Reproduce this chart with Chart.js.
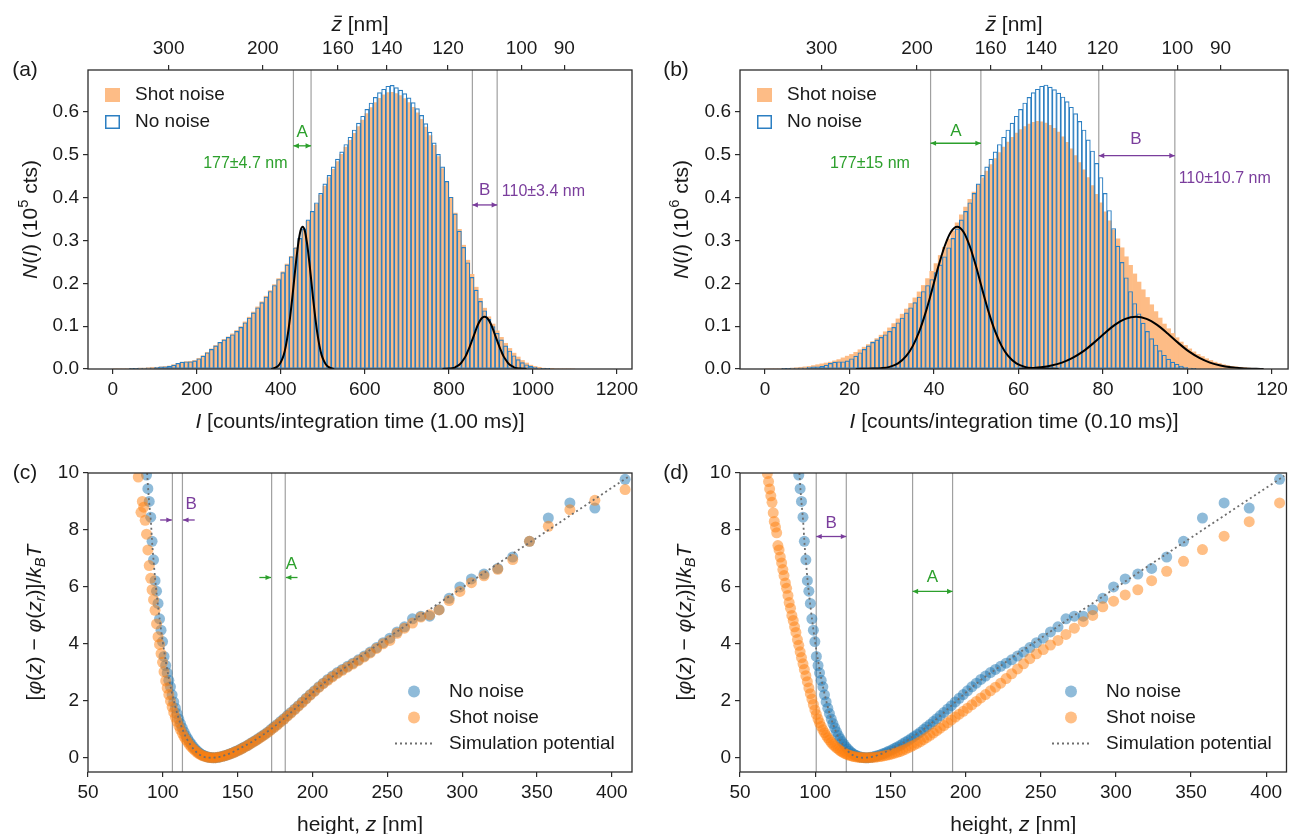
<!DOCTYPE html>
<html>
<head>
<meta charset="utf-8">
<title>Intensity histograms and reconstructed potentials</title>
<script src="https://cdn.jsdelivr.net/npm/chart.js@4.4.1/dist/chart.umd.min.js"></script>
<style>
  html, body { margin: 0; padding: 0; background: #fff; }
  #page { position: relative; width: 1292px; height: 834px; overflow: hidden; background: #fff; }
  #page canvas { position: absolute; }
</style>
</head>
<body>
<div id="page">
  <canvas id="panelA" width="646" height="445" style="left:0;top:0"></canvas>
  <canvas id="panelB" width="646" height="445" style="left:646px;top:0"></canvas>
  <canvas id="panelC" width="646" height="389" style="left:0;top:445px"></canvas>
  <canvas id="panelD" width="646" height="389" style="left:646px;top:445px"></canvas>
</div>
<script>
// ---- panel (a): 1.00 ms integration, bins of 10 counts, N(I) in 1e5 cts
var binWidthA = 10;
var shotNoiseA = [
  0, 0, 0, 0, 0.001, 0.001, 0.002, 0.002, 0.003, 0.004,
  0.004, 0.005, 0.006, 0.007, 0.010, 0.013, 0.016, 0.017, 0.018, 0.020,
  0.025, 0.031, 0.039, 0.047, 0.055, 0.062, 0.069, 0.075, 0.082, 0.090,
  0.099, 0.110, 0.121, 0.133, 0.145, 0.157, 0.170, 0.183, 0.197, 0.211,
  0.227, 0.245, 0.263, 0.283, 0.304, 0.325, 0.345, 0.365, 0.385, 0.406,
  0.427, 0.447, 0.466, 0.484, 0.501, 0.518, 0.534, 0.550, 0.566, 0.581,
  0.596, 0.610, 0.622, 0.632, 0.640, 0.645, 0.646, 0.643, 0.638, 0.631,
  0.622, 0.611, 0.598, 0.583, 0.565, 0.545, 0.522, 0.496, 0.468, 0.436,
  0.401, 0.364, 0.326, 0.289, 0.254, 0.221, 0.191, 0.165, 0.142, 0.122,
  0.105, 0.089, 0.074, 0.060, 0.048, 0.037, 0.028, 0.020, 0.014, 0.009,
  0.006, 0.004, 0.002, 0.001, 0.001, 0, 0, 0, 0, 0
];
var noNoiseA = [
  0, 0, 0, 0, 0.001, 0.001, 0.002, 0.002, 0.003, 0.003,
  0.004, 0.005, 0.005, 0.006, 0.009, 0.013, 0.016, 0.017, 0.017, 0.019,
  0.024, 0.030, 0.038, 0.046, 0.054, 0.062, 0.068, 0.074, 0.080, 0.088,
  0.097, 0.108, 0.119, 0.131, 0.143, 0.155, 0.168, 0.181, 0.195, 0.209,
  0.225, 0.243, 0.262, 0.283, 0.305, 0.327, 0.348, 0.368, 0.388, 0.410,
  0.432, 0.452, 0.472, 0.490, 0.507, 0.524, 0.541, 0.558, 0.574, 0.590,
  0.606, 0.621, 0.634, 0.645, 0.653, 0.660, 0.662, 0.657, 0.651, 0.643,
  0.633, 0.622, 0.608, 0.592, 0.573, 0.553, 0.528, 0.501, 0.472, 0.438,
  0.401, 0.362, 0.322, 0.284, 0.248, 0.214, 0.184, 0.158, 0.136, 0.116,
  0.099, 0.083, 0.068, 0.054, 0.042, 0.031, 0.022, 0.015, 0.010, 0.006,
  0.004, 0.002, 0.001, 0.001, 0, 0, 0, 0, 0, 0
];
var fitA_a = [[377,0],[387,0.003],[392,0.006],[397,0.011],[402,0.020],[407,0.033],[412,0.054],[417,0.083],
  [422,0.120],[427,0.163],[432,0.211],[437,0.257],[442,0.296],[447,0.323],[452,0.332],[457,0.323],[462,0.296],
  [467,0.257],[472,0.211],[477,0.163],[482,0.120],[487,0.083],[492,0.054],[497,0.033],[502,0.020],[507,0.011],
  [512,0.006],[517,0.003],[527,0]];
var fitB_a = [[785,0],[800,0.001],[808,0.002],[815,0.004],[820,0.007],[825,0.010],[830,0.015],[835,0.022],
  [840,0.030],[845,0.041],[850,0.053],[855,0.066],[860,0.079],[865,0.093],[870,0.105],[875,0.114],[880,0.120],
  [885,0.122],[890,0.120],[895,0.114],[900,0.105],[905,0.093],[910,0.079],[915,0.066],[920,0.053],[925,0.041],
  [930,0.030],[935,0.022],[940,0.015],[945,0.010],[950,0.007],[955,0.004],[962,0.002],[970,0.001],[985,0]];
var guidesA = [430, 472, 856, 915];
var xTicksA = [0, 200, 400, 600, 800, 1000, 1200];
var zTickPosA = [133, 357, 536, 652, 798, 973, 1075];

// ---- panel (b): 0.10 ms integration, bins of 1 count, N(I) in 1e6 cts
var binWidthB = 1;
var shotNoiseB = [
  0, 0, 0, 0, 0.001, 0.001, 0.002, 0.003, 0.004, 0.005,
  0.006, 0.008, 0.010, 0.012, 0.014, 0.016, 0.019, 0.022, 0.026, 0.030,
  0.034, 0.039, 0.045, 0.051, 0.057, 0.064, 0.071, 0.079, 0.087, 0.096,
  0.106, 0.117, 0.128, 0.140, 0.153, 0.166, 0.180, 0.195, 0.211, 0.228,
  0.246, 0.265, 0.284, 0.303, 0.322, 0.341, 0.360, 0.378, 0.396, 0.413,
  0.430, 0.446, 0.462, 0.477, 0.491, 0.505, 0.518, 0.530, 0.541, 0.551,
  0.559, 0.566, 0.572, 0.576, 0.578, 0.577, 0.574, 0.569, 0.562, 0.553,
  0.542, 0.529, 0.514, 0.498, 0.482, 0.465, 0.447, 0.428, 0.408, 0.388,
  0.367, 0.346, 0.325, 0.304, 0.283, 0.262, 0.242, 0.222, 0.203, 0.185,
  0.167, 0.150, 0.134, 0.119, 0.105, 0.094, 0.083, 0.073, 0.063, 0.055,
  0.047, 0.040, 0.034, 0.029, 0.024, 0.020, 0.016, 0.013, 0.010, 0.008,
  0.006, 0.005, 0.004, 0.003, 0.002, 0.001, 0.001, 0
];
var noNoiseB = [
  0, 0, 0, 0, 0.001, 0.001, 0.002, 0.002, 0.003, 0.003,
  0.004, 0.005, 0.005, 0.006, 0.009, 0.013, 0.016, 0.017, 0.017, 0.019,
  0.024, 0.030, 0.038, 0.046, 0.054, 0.062, 0.068, 0.074, 0.080, 0.088,
  0.097, 0.108, 0.119, 0.131, 0.143, 0.155, 0.168, 0.181, 0.195, 0.209,
  0.225, 0.243, 0.262, 0.283, 0.305, 0.327, 0.348, 0.368, 0.388, 0.410,
  0.432, 0.452, 0.472, 0.490, 0.507, 0.524, 0.541, 0.558, 0.574, 0.590,
  0.606, 0.621, 0.634, 0.645, 0.653, 0.660, 0.663, 0.658, 0.652, 0.644,
  0.635, 0.624, 0.611, 0.596, 0.578, 0.558, 0.535, 0.509, 0.480, 0.447,
  0.410, 0.370, 0.328, 0.287, 0.249, 0.213, 0.181, 0.153, 0.129, 0.107,
  0.088, 0.071, 0.056, 0.043, 0.032, 0.023, 0.016, 0.011, 0.007, 0.004,
  0.002, 0.001, 0, 0, 0, 0, 0, 0
];
var fitA_b = [[21.5,0],[25.5,0.001],[27.5,0.002],[29.5,0.005],[31.5,0.013],[33.5,0.031],[35,0.054],[36.5,0.087],
  [38,0.131],[39.5,0.183],[41,0.238],[42.5,0.286],[44,0.320],[45.5,0.332],[47,0.320],[48.5,0.286],[50,0.238],
  [51.5,0.183],[53,0.131],[54.5,0.087],[56,0.054],[57.5,0.031],[59.5,0.013],[61.5,0.005],[63.5,0.002],
  [65.5,0.001],[69.5,0]];
var fitB_b = [[60,0],[62.8,0.002],[65.3,0.004],[67.8,0.008],[70.3,0.015],[72.8,0.026],[75.3,0.041],[77.8,0.061],
  [80.3,0.083],[82.8,0.103],[85.3,0.117],[87.8,0.122],[90.3,0.117],[92.8,0.103],[95.3,0.083],[97.8,0.061],
  [100.3,0.041],[102.8,0.026],[105.3,0.015],[107.8,0.008],[110.3,0.004],[112.8,0.002],[118,0]];
var guidesB = [39.2, 51.1, 79.0, 97.0];
var xTicksB = [0, 20, 40, 60, 80, 100, 120];
var zTickPosB = [13.4, 36.0, 53.4, 65.4, 79.9, 97.6, 107.8];

var zTickLabels = ['300', '200', '160', '140', '120', '100', '90'];
var histYTicks = [0, 0.1, 0.2, 0.3, 0.4, 0.5, 0.6];

// ---- panels (c), (d): potentials [height z (nm), phi/kBT]
var noNoisePhi = [[89.1,9.93],[90.0,9.45],[90.9,9.0],[91.9,8.45],[92.8,7.6],[93.8,6.95],[94.8,6.22],[95.8,5.85],
  [96.8,5.42],[97.8,4.88],[98.8,4.48],[99.8,4.08],[100.8,3.56],[101.9,3.24],[102.9,2.98],[104.0,2.72],[105.1,2.49],
  [106.2,2.21],[107.3,1.96],[108.4,1.74],[109.5,1.55],[110.7,1.36],[111.8,1.2],[113.0,1.05],[114.2,0.91],[115.4,0.78],
  [116.6,0.67],[117.8,0.57],[119.0,0.48],[120.3,0.39],[121.6,0.31],[122.9,0.24],[124.2,0.18],[125.5,0.13],[126.8,0.09],
  [128.2,0.06],[129.6,0.035],[130.9,0.018],[132.4,0.006],[133.8,0],[135.3,0.004],[136.7,0.015],[138.2,0.03],
  [139.8,0.05],[141.3,0.075],[142.9,0.1],[144.5,0.13],[146.1,0.16],[147.7,0.2],[149.4,0.24],[151.1,0.28],[152.9,0.33],
  [154.6,0.38],[156.4,0.43],[158.2,0.49],[160.1,0.55],[162.0,0.61],[163.9,0.68],[165.9,0.75],[167.9,0.82],[170.0,0.9],
  [172.1,0.99],[174.2,1.08],[176.4,1.17],[178.6,1.27],[180.9,1.37],[183.2,1.48],[185.6,1.59],[188.1,1.71],[190.6,1.83],
  [193.2,1.96],[195.8,2.09],[198.5,2.22],[201.3,2.35],[204.2,2.49],[207.2,2.62],[210.2,2.75],[213.3,2.87],[216.6,2.99],
  [219.9,3.1],[223.4,3.21],[227.0,3.32],[230.7,3.44],[234.6,3.57],[238.6,3.71],[242.8,3.87],[247.2,4.04],[251.7,4.2],
  [256.5,4.42],[261.5,4.6],[266.8,4.88],[272.4,4.97],[278.3,4.97],[284.6,5.2],[291.3,5.6],[298.5,6.0],[306.2,6.28],
  [314.6,6.45],[323.8,6.65],[333.8,7.05],[345.0,7.6],[357.6,8.42],[372.0,8.95],[388.7,8.77],[408.9,9.78]];
var shotNoisePhiC = [[83.6,9.86],[85.4,8.62],[86.3,9.0],[87.2,8.8],[88.2,8.34],[89.1,7.85],[90.0,7.3],[90.9,6.75],
  [91.9,6.3],[92.8,5.9],[93.8,5.55],[94.8,5.18],[95.8,4.7],[96.8,4.25],[97.8,3.98],[98.8,3.66],[99.8,3.35],[100.8,3.02],
  [101.9,2.7],[102.9,2.45],[104.0,2.22],[105.1,1.99],[106.2,1.78],[107.3,1.59],[108.4,1.42],[109.5,1.27],[110.7,1.12],
  [111.8,0.99],[113.0,0.86],[114.2,0.74],[115.4,0.64],[116.6,0.55],[117.8,0.46],[119.0,0.38],[120.3,0.31],[121.6,0.25],
  [122.9,0.19],[124.2,0.14],[125.5,0.1],[126.8,0.07],[128.2,0.045],[129.6,0.025],[130.9,0.012],[132.4,0.004],[133.8,0],
  [135.3,0.004],[136.7,0.014],[138.2,0.028],[139.8,0.047],[141.3,0.07],[142.9,0.095],[144.5,0.125],[146.1,0.155],
  [147.7,0.19],[149.4,0.23],[151.1,0.27],[152.9,0.32],[154.6,0.37],[156.4,0.42],[158.2,0.48],[160.1,0.54],[162.0,0.6],
  [163.9,0.66],[165.9,0.73],[167.9,0.8],[170.0,0.88],[172.1,0.97],[174.2,1.06],[176.4,1.15],[178.6,1.25],[180.9,1.35],
  [183.2,1.46],[185.6,1.57],[188.1,1.69],[190.6,1.81],[193.2,1.94],[195.8,2.07],[198.5,2.2],[201.3,2.33],[204.2,2.47],
  [207.2,2.6],[210.2,2.72],[213.3,2.84],[216.6,2.96],[219.9,3.07],[223.4,3.18],[227.0,3.29],[230.7,3.41],[234.6,3.54],
  [238.6,3.68],[242.8,3.84],[247.2,4.0],[251.7,4.12],[256.5,4.37],[261.5,4.55],[266.8,4.73],[272.4,4.94],[278.3,5.02],
  [284.6,5.19],[291.3,5.52],[298.5,5.84],[306.2,6.15],[314.6,6.39],[323.8,6.62],[333.8,6.96],[345.0,7.6],[357.6,8.13],
  [372.0,8.71],[388.7,9.04],[408.9,9.42]];
var shotNoisePhiD = [[68.2,9.98],[69.0,9.7],[69.7,9.44],[70.5,9.2],[71.3,8.97],[72.1,8.6],[72.8,8.3],[73.6,8.1],
  [74.4,7.9],[75.2,7.45],[76.0,7.3],[76.8,7.05],[77.7,6.84],[78.5,6.61],[79.3,6.4],[80.2,6.14],[81.0,5.95],[81.9,5.7],
  [82.7,5.45],[83.6,5.25],[84.5,5.0],[85.4,4.82],[86.3,4.6],[87.2,4.4],[88.2,4.15],[89.1,3.95],[90.0,3.72],[90.9,3.52],
  [91.9,3.3],[92.8,3.1],[93.8,2.88],[94.8,2.67],[95.8,2.45],[96.8,2.25],[97.8,2.06],[98.8,1.87],[99.8,1.68],[100.8,1.52],
  [101.9,1.36],[102.9,1.23],[104.0,1.1],[105.1,0.98],[106.2,0.88],[107.3,0.79],[108.4,0.7],[109.5,0.62],[110.7,0.54],
  [111.8,0.47],[113.0,0.41],[114.2,0.35],[115.4,0.3],[116.6,0.25],[117.8,0.21],[119.0,0.17],[120.3,0.14],[121.6,0.11],
  [122.9,0.085],[124.2,0.065],[125.5,0.048],[126.8,0.033],[128.2,0.02],[129.6,0.011],[130.9,0.005],[132.4,0.001],
  [133.8,0],[135.3,0.002],[136.7,0.006],[138.2,0.012],[139.8,0.02],[141.3,0.03],[142.9,0.042],[144.5,0.056],
  [146.1,0.072],[147.7,0.09],[149.4,0.11],[151.1,0.135],[152.9,0.16],[154.6,0.19],[156.4,0.22],[158.2,0.26],
  [160.1,0.3],[162.0,0.35],[163.9,0.4],[165.9,0.45],[167.9,0.51],[170.0,0.57],[172.1,0.64],[174.2,0.71],[176.4,0.79],
  [178.6,0.87],[180.9,0.95],[183.2,1.04],[185.6,1.13],[188.1,1.23],[190.6,1.33],[193.2,1.43],[195.8,1.53],[198.5,1.63],
  [201.3,1.74],[204.2,1.86],[207.2,1.98],[210.2,2.1],[213.3,2.22],[216.6,2.35],[219.9,2.48],[223.4,2.62],[227.0,2.78],
  [230.7,2.95],[234.6,3.12],[238.6,3.3],[242.8,3.48],[247.2,3.65],[251.7,3.8],[256.5,3.96],[261.5,4.12],[266.8,4.33],
  [272.4,4.55],[278.3,4.78],[284.6,5.0],[291.3,5.3],[298.5,5.5],[306.2,5.72],[314.6,5.9],[323.8,6.22],[333.8,6.55],
  [345.0,6.9],[357.6,7.31],[372.0,7.78],[388.7,8.29],[408.9,8.95]];
var simPotential = [[89.5,10.0],[90.5,9.2],[92,8.3],[93,7.45],[94,6.8],[95,6.2],[96,5.7],[97,5.25],[98,4.82],
  [99,4.42],[100,4.05],[102,3.38],[104,2.8],[106,2.3],[108,1.86],[110,1.48],[112,1.16],[114,0.89],[116,0.67],
  [118,0.49],[120,0.34],[122,0.22],[124,0.13],[126,0.065],[128,0.025],[130,0.006],[132,0],[134,0.003],[136,0.015],
  [140,0.06],[145,0.16],[150,0.29],[155,0.43],[160,0.57],[165,0.74],[170,0.92],[175,1.12],[180,1.33],[185,1.56],
  [190,1.8],[195,2.04],[200,2.28],[210,2.72],[220,3.1],[230,3.48],[240,3.84],[250,4.2],[260,4.56],[270,4.92],
  [280,5.27],[300,5.97],[320,6.68],[340,7.38],[360,8.08],[380,8.78],[400,9.48],[412,9.9]];
var guidesC = [106.4, 113.1, 172.7, 181.8];
var guidesD = [100.7, 120.7, 164.8, 191.4];
var xTicksZ = [50, 100, 150, 200, 250, 300, 350, 400];
var yTicksPhi = [0, 2, 4, 6, 8, 10];

var FONT = '"Liberation Sans", Arial, Helvetica, sans-serif';
var INK = '#1a1a1a';
var ORANGE_BAR = 'rgb(253,188,134)';
var BLUE_EDGE = '#2c7fc2';
var BLUE_DOT = 'rgba(31,119,180,0.5)';
var ORANGE_DOT = 'rgba(255,127,14,0.5)';
var GREEN = '#2ca02c';
var PURPLE = '#7a3d9c';

function setFont(ctx, size, italic) {
  ctx.font = (italic ? 'italic ' : '') + size + 'px ' + FONT;
}

// text made of normal / italic / sub / superscript pieces, centred on (cx, cy)
function drawRich(ctx, parts, cx, cy, size, angle) {
  ctx.save();
  ctx.translate(cx, cy);
  if (angle) ctx.rotate(angle);
  var items = parts.map(function (p) {
    var s = (p.sup || p.sub) ? size * 0.7 : size;
    setFont(ctx, s, p.i);
    return { p: p, s: s, w: ctx.measureText(p.t).width };
  });
  var total = items.reduce(function (a, b) { return a + b.w; }, 0);
  var x = -total / 2;
  ctx.fillStyle = INK;
  ctx.strokeStyle = INK;
  ctx.textAlign = 'left';
  ctx.textBaseline = 'alphabetic';
  items.forEach(function (it) {
    setFont(ctx, it.s, it.p.i);
    var y = size * 0.36;
    if (it.p.sup) y -= size * 0.42;
    if (it.p.sub) y += size * 0.22;
    ctx.fillText(it.p.t, x, y);
    if (it.p.bar) {
      ctx.lineWidth = 1.3;
      ctx.beginPath();
      ctx.moveTo(x + it.w * 0.3, y - size * 0.68);
      ctx.lineTo(x + it.w * 1.0, y - size * 0.68);
      ctx.stroke();
    }
    x += it.w;
  });
  ctx.restore();
}

function head(ctx, x, y, dir) {
  ctx.beginPath();
  ctx.moveTo(x, y);
  ctx.lineTo(x - dir * 5.5, y - 2.6);
  ctx.lineTo(x - dir * 5.5, y + 2.6);
  ctx.closePath();
  ctx.fill();
}

function decoPlugin(cfg) {
  return {
    id: 'deco',
    beforeDatasetsDraw: function (chart) {
      var ctx = chart.ctx, a = chart.chartArea, sx = chart.scales.x;
      ctx.save();
      ctx.strokeStyle = '#a0a0a0';
      ctx.lineWidth = 1.2;
      cfg.guides.forEach(function (v) {
        var x = sx.getPixelForValue(v);
        ctx.beginPath();
        ctx.moveTo(x, a.top);
        ctx.lineTo(x, a.bottom);
        ctx.stroke();
      });
      ctx.restore();
    },
    afterDraw: function (chart) {
      var ctx = chart.ctx, a = chart.chartArea;
      var px = function (v) { return chart.scales.x.getPixelForValue(v); };
      var py = function (v) { return chart.scales.y.getPixelForValue(v); };
      ctx.save();
      ctx.strokeStyle = '#2b2b2b';
      ctx.lineWidth = 1.3;
      ctx.strokeRect(a.left, a.top, a.right - a.left, a.bottom - a.top);

      cfg.arrows.forEach(function (ar) {
        var x1 = px(ar.x1), x2 = px(ar.x2), y = py(ar.y);
        ctx.strokeStyle = ar.color;
        ctx.fillStyle = ar.color;
        ctx.lineWidth = 1.3;
        ctx.beginPath();
        ctx.moveTo(x1, y);
        ctx.lineTo(x2, y);
        ctx.stroke();
        head(ctx, x2, y, x2 > x1 ? 1 : -1);
        if (ar.both) head(ctx, x1, y, x1 > x2 ? 1 : -1);
      });

      cfg.notes.forEach(function (n) {
        setFont(ctx, n.size || 16, false);
        ctx.fillStyle = n.color;
        ctx.textAlign = n.align || 'center';
        ctx.textBaseline = 'middle';
        ctx.fillText(n.text, px(n.x), py(n.y));
      });

      var L = a.left, T = a.top;
      setFont(ctx, 19, false);
      ctx.textAlign = 'left';
      ctx.textBaseline = 'middle';
      if (cfg.legend === 'hist') {
        ctx.fillStyle = ORANGE_BAR;
        ctx.fillRect(L + 17, T + 18, 15, 14);
        ctx.strokeStyle = BLUE_EDGE;
        ctx.lineWidth = 1.5;
        ctx.strokeRect(L + 17.75, T + 45.75, 13.5, 12.5);
        ctx.fillStyle = INK;
        ctx.fillText('Shot noise', L + 47, T + 25);
        ctx.fillText('No noise', L + 47, T + 52);
      } else {
        var dx = cfg.legendDot, tx = cfg.legendText;
        ctx.fillStyle = BLUE_DOT;
        ctx.beginPath(); ctx.arc(L + dx, T + 218.5, 6, 0, Math.PI * 2); ctx.fill();
        ctx.fillStyle = ORANGE_DOT;
        ctx.beginPath(); ctx.arc(L + dx, T + 244.5, 6, 0, Math.PI * 2); ctx.fill();
        ctx.strokeStyle = '#6e6e6e';
        ctx.lineWidth = 1.8;
        ctx.setLineDash([2, 3]);
        ctx.beginPath(); ctx.moveTo(L + dx - 19, T + 270.5); ctx.lineTo(L + dx + 19, T + 270.5); ctx.stroke();
        ctx.setLineDash([]);
        ctx.fillStyle = INK;
        ctx.fillText('No noise', L + tx, T + 219);
        ctx.fillText('Shot noise', L + tx, T + 245);
        ctx.fillText('Simulation potential', L + tx, T + 270.5);
      }

      drawRich(ctx, cfg.xTitle, (a.left + a.right) / 2, a.bottom + 51, 21, 0);
      drawRich(ctx, cfg.yTitle, a.left + cfg.yTitleDx, (a.top + a.bottom) / 2, 21, -Math.PI / 2);
      if (cfg.topTitle) drawRich(ctx, cfg.topTitle, (a.left + a.right) / 2, a.top - 47, 21, 0);

      setFont(ctx, 21, false);
      ctx.fillStyle = INK;
      ctx.textAlign = 'center';
      ctx.textBaseline = 'middle';
      ctx.fillText(cfg.tag, cfg.tagX, a.top);
      ctx.restore();
    }
  };
}

function fixedTicks(list) {
  return function (scale) {
    scale.ticks = list.map(function (v) { return { value: v }; });
  };
}

function axis(pos, min, max, list, size, callback) {
  var s = {
    type: 'linear',
    position: pos,
    min: min,
    max: max,
    offset: false,
    afterBuildTicks: fixedTicks(list),
    grid: { offset: false, drawOnChartArea: false, drawTicks: true, tickLength: 5, color: '#2b2b2b', lineWidth: 1.2 },
    border: { display: false },
    ticks: {
      font: { family: FONT, size: 19 },
      color: INK,
      padding: pos === 'top' ? 5 : 4,
      autoSkip: false,
      maxRotation: 0,
      callback: callback
    }
  };
  if (pos === 'left') s.afterFit = function (sc) { sc.width = size; };
  else s.afterFit = function (sc) { sc.height = size; };
  return s;
}

function pairs(list) {
  return list.map(function (p) { return { x: p[0], y: p[1] }; });
}

function bins(values, width) {
  return values.map(function (v, i) { return { x: (i + 0.5) * width, y: v }; });
}

function histogramChart(id, p) {
  var barStyle = { grouped: false, barPercentage: 1, categoryPercentage: 1 };
  new Chart(document.getElementById(id), {
    type: 'bar',
    data: {
      datasets: [
        { type: 'line', label: 'fit A', data: pairs(p.fitA), borderColor: '#000', borderWidth: 2,
          pointRadius: 0, cubicInterpolationMode: 'monotone', order: 0 },
        { type: 'line', label: 'fit B', data: pairs(p.fitB), borderColor: '#000', borderWidth: 2,
          pointRadius: 0, cubicInterpolationMode: 'monotone', order: 0 },
        Object.assign({ label: 'No noise', data: bins(p.noNoise, p.binWidth), backgroundColor: 'rgba(0,0,0,0)',
          borderColor: BLUE_EDGE, borderWidth: 0.5, borderSkipped: false, order: 1 }, barStyle),
        Object.assign({ label: 'Shot noise', data: bins(p.shot, p.binWidth), backgroundColor: ORANGE_BAR,
          borderWidth: 0, order: 2 }, barStyle)
      ]
    },
    options: {
      responsive: false,
      animation: false,
      devicePixelRatio: 1,
      layout: { padding: { left: 0, right: p.padRight, top: 0, bottom: 0 } },
      plugins: { legend: { display: false }, tooltip: { enabled: false } },
      scales: {
        x: axis('bottom', p.xMin, p.xMax, p.xTicks, 76, function (v) { return String(v); }),
        x2: axis('top', p.xMin, p.xMax, p.zTickPos, 70, function (v, i) { return zTickLabels[i]; }),
        y: axis('left', 0, 0.698, histYTicks, p.yWidth, function (v) { return v.toFixed(1); })
      }
    },
    plugins: [decoPlugin(p.deco)]
  });
}

function potentialChart(id, p) {
  new Chart(document.getElementById(id), {
    type: 'scatter',
    data: {
      datasets: [
        { label: 'Simulation potential', data: pairs(simPotential), showLine: true, borderColor: '#6e6e6e',
          borderWidth: 1.8, borderDash: [2, 3], pointRadius: 0, cubicInterpolationMode: 'monotone', order: 0 },
        { label: 'Shot noise', data: pairs(p.shot), backgroundColor: ORANGE_DOT, borderWidth: 0,
          pointRadius: 5.5, order: 1 },
        { label: 'No noise', data: pairs(noNoisePhi), backgroundColor: BLUE_DOT, borderWidth: 0,
          pointRadius: 5.5, order: 2 }
      ]
    },
    options: {
      responsive: false,
      animation: false,
      devicePixelRatio: 1,
      layout: { padding: { left: 0, right: p.padRight, top: 28, bottom: 0 } },
      plugins: { legend: { display: false }, tooltip: { enabled: false } },
      scales: {
        x: axis('bottom', 50, 413.5, xTicksZ, 62, function (v) { return String(v); }),
        y: axis('left', -0.5, 10, yTicksPhi, p.yWidth, function (v) { return String(v); })
      }
    },
    plugins: [decoPlugin(p.deco)]
  });
}

var histYTitle = function (exp) {
  return [{ t: 'N', i: 1 }, { t: '(' }, { t: 'I', i: 1 }, { t: ') (10' }, { t: exp, sup: 1 }, { t: ' cts)' }];
};
var zBarTitle = [{ t: 'z', i: 1, bar: 1 }, { t: ' [nm]' }];
var heightTitle = [{ t: 'height, ' }, { t: 'z', i: 1 }, { t: ' [nm]' }];
var phiTitle = [{ t: '[' }, { t: 'φ', i: 1 }, { t: '(' }, { t: 'z', i: 1 }, { t: ') − ' }, { t: 'φ', i: 1 },
  { t: '(' }, { t: 'z', i: 1 }, { t: 'r', i: 1, sub: 1 }, { t: ')]/' }, { t: 'k', i: 1 }, { t: 'B', i: 1, sub: 1 },
  { t: 'T', i: 1 }];

histogramChart('panelA', {
  shot: shotNoiseA, noNoise: noNoiseA, binWidth: binWidthA, fitA: fitA_a, fitB: fitB_a,
  xMin: -59, xMax: 1236, xTicks: xTicksA, zTickPos: zTickPosA, yWidth: 88, padRight: 14,
  deco: {
    guides: guidesA,
    arrows: [
      { x1: 430, x2: 472, y: 0.521, color: GREEN, both: true },
      { x1: 856, x2: 915, y: 0.383, color: PURPLE, both: true }
    ],
    notes: [
      { x: 451, y: 0.553, text: 'A', color: GREEN, size: 17 },
      { x: 416, y: 0.480, text: '177±4.7 nm', color: GREEN, align: 'right' },
      { x: 885, y: 0.418, text: 'B', color: PURPLE, size: 17 },
      { x: 926, y: 0.413, text: '110±3.4 nm', color: PURPLE, align: 'left' }
    ],
    legend: 'hist',
    xTitle: [{ t: 'I', i: 1 }, { t: ' [counts/integration time (1.00 ms)]' }],
    yTitle: histYTitle('5'), yTitleDx: -59, topTitle: zBarTitle, tag: '(a)', tagX: 25
  }
});

histogramChart('panelB', {
  shot: shotNoiseB, noNoise: noNoiseB, binWidth: binWidthB, fitA: fitA_b, fitB: fitB_b,
  xMin: -5.9, xMax: 123.8, xTicks: xTicksB, zTickPos: zTickPosB, yWidth: 94, padRight: 3,
  deco: {
    guides: guidesB,
    arrows: [
      { x1: 39.2, x2: 51.1, y: 0.527, color: GREEN, both: true },
      { x1: 79.0, x2: 97.0, y: 0.498, color: PURPLE, both: true }
    ],
    notes: [
      { x: 45.2, y: 0.554, text: 'A', color: GREEN, size: 17 },
      { x: 34.3, y: 0.480, text: '177±15 nm', color: GREEN, align: 'right' },
      { x: 87.8, y: 0.537, text: 'B', color: PURPLE, size: 17 },
      { x: 97.9, y: 0.444, text: '110±10.7 nm', color: PURPLE, align: 'left' }
    ],
    legend: 'hist',
    xTitle: [{ t: 'I', i: 1 }, { t: ' [counts/integration time (0.10 ms)]' }],
    yTitle: histYTitle('6'), yTitleDx: -60, topTitle: zBarTitle, tag: '(b)', tagX: 30
  }
});

potentialChart('panelC', {
  shot: shotNoisePhiC, yWidth: 88, padRight: 14,
  deco: {
    guides: guidesC,
    arrows: [
      { x1: 98.2, x2: 106.0, y: 8.35, color: PURPLE },
      { x1: 121.3, x2: 113.5, y: 8.35, color: PURPLE },
      { x1: 164.5, x2: 172.3, y: 6.33, color: GREEN },
      { x1: 190.0, x2: 182.2, y: 6.33, color: GREEN }
    ],
    notes: [
      { x: 119, y: 8.9, text: 'B', color: PURPLE, size: 17 },
      { x: 186, y: 6.78, text: 'A', color: GREEN, size: 17 }
    ],
    legend: 'scatter', legendDot: 326, legendText: 361,
    xTitle: heightTitle, yTitle: phiTitle, yTitleDx: -55, tag: '(c)', tagX: 25
  }
});

potentialChart('panelD', {
  shot: shotNoisePhiD, yWidth: 94, padRight: 3,
  deco: {
    guides: guidesD,
    arrows: [
      { x1: 100.7, x2: 120.7, y: 7.77, color: PURPLE, both: true },
      { x1: 164.8, x2: 191.4, y: 5.84, color: GREEN, both: true }
    ],
    notes: [
      { x: 110.6, y: 8.23, text: 'B', color: PURPLE, size: 17 },
      { x: 178, y: 6.34, text: 'A', color: GREEN, size: 17 }
    ],
    legend: 'scatter', legendDot: 331, legendText: 366,
    xTitle: heightTitle, yTitle: phiTitle, yTitleDx: -57, tag: '(d)', tagX: 30
  }
});
</script>
</body>
</html>
